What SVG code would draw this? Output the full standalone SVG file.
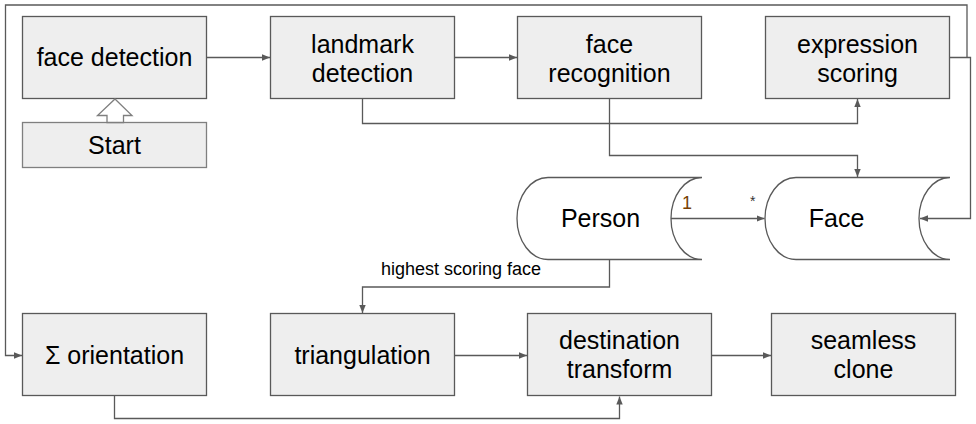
<svg xmlns="http://www.w3.org/2000/svg" width="976" height="424" viewBox="0 0 976 424">
<defs>
<style>
.box{fill:#eeeeee;stroke:#595959;stroke-width:1.3}
.cyl{fill:#ffffff;stroke:#595959;stroke-width:1.3}
.lbl{font-family:"Liberation Sans",Arial,sans-serif;font-size:25px;fill:#000;text-anchor:middle}
.small{font-family:"Liberation Sans",Arial,sans-serif;font-size:18px;fill:#000}
.conn{fill:none;stroke:#595959;stroke-width:1.3}
</style>
<marker id="arr" viewBox="0 0 10 10" refX="10" refY="5" markerWidth="8" markerHeight="8" markerUnits="userSpaceOnUse" orient="auto">
<path d="M0,1 L10,5 L0,9 Z" fill="#595959"/>
</marker>
</defs>
<rect width="976" height="424" fill="#ffffff"/>
<g id="connectors">
<path class="conn" d="M206.5,57.5 H270" marker-end="url(#arr)"/>
<path class="conn" d="M454.5,57.5 H517" marker-end="url(#arr)"/>
<path class="conn" d="M362.5,98.5 V123.5 H857.5 V99" marker-end="url(#arr)"/>
<path class="conn" d="M609.5,98.5 V155.5 H857.5 V177" marker-end="url(#arr)"/>
<path class="conn" d="M949.5,57.5 H970.5 V218.5 H920" marker-end="url(#arr)"/>
<path class="conn" d="M967,57.5 V5 H5.5 V355.5 H22" marker-end="url(#arr)"/>
<path class="conn" d="M671,218.5 H764.5" marker-end="url(#arr)"/>
<path class="conn" d="M609.5,259.5 V287 H362.5 V313" marker-end="url(#arr)"/>
<path class="conn" d="M454.5,355.5 H527" marker-end="url(#arr)"/>
<path class="conn" d="M711.5,355.5 H771" marker-end="url(#arr)"/>
<path class="conn" d="M114.5,396 V418.5 H619.5 V396.5" marker-end="url(#arr)"/>
<text class="small" x="381" y="275">highest scoring face</text>
<text class="small" x="682" y="209" style="fill:#783f04">1</text>
<text x="750" y="206" style="font-family:'Liberation Sans',Arial,sans-serif;font-size:14px;fill:#333">*</text>
</g>
<g id="face-detection">
<rect class="box" x="22.5" y="16.5" width="184" height="82"/>
<text class="lbl" x="114.5" y="66">face detection</text>
</g>
<g id="start">
<rect x="22.5" y="122.5" width="184" height="45" fill="#eeeeee" stroke="#7f7f7f" stroke-width="1.3"/>
<path d="M115,99 L132,115.5 H123.5 V122.5 H107 V115.5 H97.5 Z" fill="#ffffff" stroke="#7f7f7f" stroke-width="1.3"/>
<text class="lbl" x="114.5" y="154">Start</text>
</g>
<g id="landmark-detection">
<rect class="box" x="270.5" y="16.5" width="184" height="82"/>
<text class="lbl" x="362.5" y="52.5">landmark</text>
<text class="lbl" x="362.5" y="81.5">detection</text>
</g>
<g id="face-recognition">
<rect class="box" x="517.5" y="16.5" width="184" height="82"/>
<text class="lbl" x="609.5" y="52.5">face</text>
<text class="lbl" x="609.5" y="81.5">recognition</text>
</g>
<g id="expression-scoring">
<rect class="box" x="765.5" y="16.5" width="184" height="82"/>
<text class="lbl" x="857.5" y="52.5">expression</text>
<text class="lbl" x="857.5" y="81.5">scoring</text>
</g>
<g id="person">
<path class="cyl" d="M548,177.5 H702 A31,41 0 0 0 702,259.5 H548 A31,41 0 0 1 548,177.5 Z"/>
<text class="lbl" x="600.5" y="227">Person</text>
</g>
<g id="face">
<path class="cyl" d="M796,177.5 H950 A31,41 0 0 0 950,259.5 H796 A31,41 0 0 1 796,177.5 Z"/>
<text class="lbl" x="836.5" y="227">Face</text>
</g>
<g id="orientation">
<rect class="box" x="22.5" y="313.5" width="184" height="82"/>
<text class="lbl" x="114.5" y="364">Σ orientation</text>
</g>
<g id="triangulation">
<rect class="box" x="270.5" y="313.5" width="184" height="82"/>
<text class="lbl" x="362.5" y="364">triangulation</text>
</g>
<g id="destination-transform">
<rect class="box" x="527.5" y="313.5" width="184" height="82"/>
<text class="lbl" x="619.5" y="348.5">destination</text>
<text class="lbl" x="619.5" y="377.5">transform</text>
</g>
<g id="seamless-clone">
<rect class="box" x="771.5" y="313.5" width="184" height="82"/>
<text class="lbl" x="863.5" y="348.5">seamless</text>
<text class="lbl" x="863.5" y="377.5">clone</text>
</g>
</svg>
